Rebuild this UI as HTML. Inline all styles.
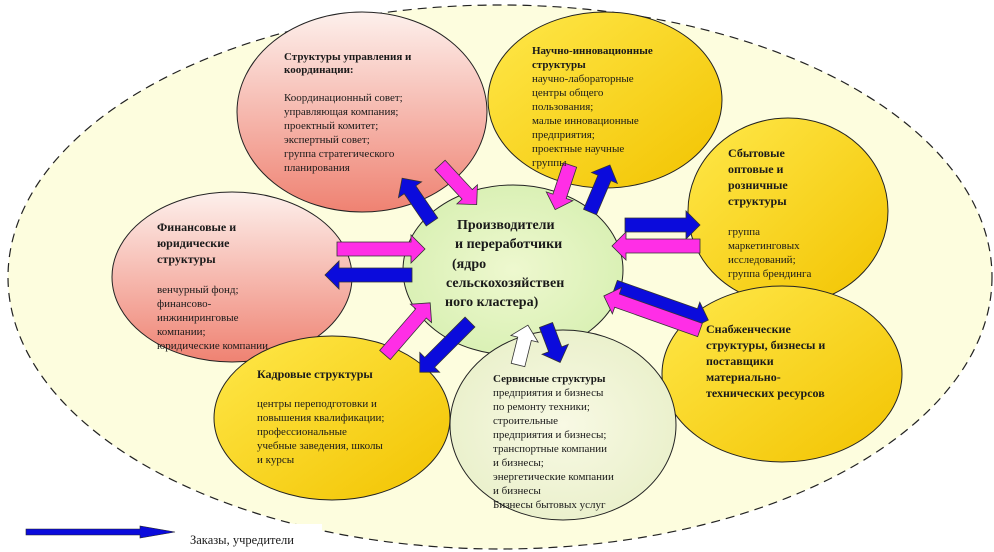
<!DOCTYPE html>
<html><head><meta charset="utf-8"><style>
html,body{margin:0;padding:0;background:#fff;}
svg{display:block;}
text{font-family:"Liberation Serif",serif;fill:#1a1a1a;}
.b{font-weight:bold;}
</style></head><body>
<svg width="994" height="552" viewBox="0 0 994 552" xmlns="http://www.w3.org/2000/svg">
<defs>
<linearGradient id="pk" x1="0" y1="0" x2="0" y2="1">
<stop offset="0" stop-color="#fdf0ec"/><stop offset="1" stop-color="#ef8272"/></linearGradient>
<linearGradient id="yl" x1="0" y1="0" x2="1" y2="1">
<stop offset="0" stop-color="#ffe84a"/><stop offset="1" stop-color="#f2c300"/></linearGradient>
<radialGradient id="gr" cx="0.5" cy="0.5" r="0.6">
<stop offset="0" stop-color="#eef8cf"/><stop offset="1" stop-color="#d6efb0"/></radialGradient>
<radialGradient id="gr2" cx="0.5" cy="0.5" r="0.6">
<stop offset="0" stop-color="#f8f9e4"/><stop offset="1" stop-color="#e8efc8"/></radialGradient>
<polygon id="a" points="0,-7 -14,-7 -14,-14 0,0 -14,14 -14,7 0,7"/>
</defs>
<ellipse cx="500" cy="277" rx="492" ry="272" fill="#fdfdde" stroke="#222" stroke-width="1.2" stroke-dasharray="9,6"/>

<ellipse cx="362" cy="112" rx="125" ry="100" fill="url(#pk)" stroke="#222"/>
<ellipse cx="605" cy="100" rx="117" ry="88" fill="url(#yl)" stroke="#222"/>
<ellipse cx="232" cy="277" rx="120" ry="85" fill="url(#pk)" stroke="#222"/>
<ellipse cx="788" cy="211" rx="100" ry="93" fill="url(#yl)" stroke="#222"/>
<ellipse cx="513" cy="270" rx="110" ry="85" fill="url(#gr)" stroke="#222"/>
<ellipse cx="782" cy="374" rx="120" ry="88" fill="url(#yl)" stroke="#222"/>
<ellipse cx="332" cy="418" rx="118" ry="82" fill="url(#yl)" stroke="#222"/>
<ellipse cx="563" cy="425" rx="113" ry="95" fill="url(#gr2)" stroke="#222"/>

<g stroke="#333" stroke-width="0.8">
<path d="M0,-7 H-14 V-14 L0,0 L-14,14 V7 H0Z" transform="translate(432,222) rotate(-124.3) translate(53,0)" fill="#0a0ae0" display="none"/>
</g>
<g stroke="#333" stroke-width="0.8">
<g transform="translate(432,222) rotate(-124.3)"><polygon points="0,-7 39,-7 39,-14 53,0 39,14 39,7 0,7" fill="#0b0bdc"/></g>
<g transform="translate(440,165) rotate(47.2)"><polygon points="0,-7 40,-7 40,-14 54,0 40,14 40,7 0,7" fill="#ff2ee6"/></g>
<g transform="translate(570,165) rotate(108.4)"><polygon points="0,-7 33,-7 33,-14 47,0 33,14 33,7 0,7" fill="#ff2ee6"/></g>
<g transform="translate(590,212) rotate(-67)"><polygon points="0,-7 37,-7 37,-14 51,0 37,14 37,7 0,7" fill="#0b0bdc"/></g>
<g transform="translate(625,225) rotate(0)"><polygon points="0,-7 61,-7 61,-14 75,0 61,14 61,7 0,7" fill="#0b0bdc"/></g>
<g transform="translate(700,246) rotate(180)"><polygon points="0,-7 74,-7 74,-14 88,0 74,14 74,7 0,7" fill="#ff2ee6"/></g>
<g transform="translate(615,287) rotate(19.5)"><polygon points="0,-7 85,-7 85,-14 99,0 85,14 85,7 0,7" fill="#0b0bdc"/></g>
<g transform="translate(700,330) rotate(199.5)"><polygon points="0,-7 88,-7 88,-14 102,0 88,14 88,7 0,7" fill="#ff2ee6"/></g>
<g transform="translate(337,249) rotate(0)"><polygon points="0,-7 74,-7 74,-14 88,0 74,14 74,7 0,7" fill="#ff2ee6"/></g>
<g transform="translate(412,275) rotate(180)"><polygon points="0,-7 73,-7 73,-14 87,0 73,14 73,7 0,7" fill="#0b0bdc"/></g>
<g transform="translate(385,355) rotate(-49.1)"><polygon points="0,-7 55,-7 55,-14 69,0 55,14 55,7 0,7" fill="#ff2ee6"/></g>
<g transform="translate(470,322) rotate(135)"><polygon points="0,-7 57,-7 57,-14 71,0 57,14 57,7 0,7" fill="#0b0bdc"/></g>
<g transform="translate(518,365) rotate(-76)"><polygon points="0,-7 27,-7 27,-14 41,0 27,14 27,7 0,7" fill="#ffffff"/></g>
<g transform="translate(546,325) rotate(69.3)"><polygon points="0,-7 26,-7 26,-14 40,0 26,14 26,7 0,7" fill="#0b0bdc"/></g>
</g>

<rect x="182" y="524" width="140" height="28" fill="#fff"/>
<polygon points="26,529 140,529 140,526 175,532 140,538 140,535 26,535" fill="#0b0bdc" stroke="#222" stroke-width="0.6"/>
<text x="190" y="544" font-size="12.5">Заказы, учредители</text>

<g font-size="11">
<text x="284" y="60" class="b">Структуры управления и</text>
<text x="284" y="73" class="b">координации:</text>
<text x="284" y="101">Координационный совет;</text>
<text x="284" y="115">управляющая компания;</text>
<text x="284" y="129">проектный комитет;</text>
<text x="284" y="143">экспертный совет;</text>
<text x="284" y="157">группа стратегического</text>
<text x="284" y="171">планирования</text>

<text x="532" y="54" class="b">Научно-инновационные</text>
<text x="532" y="68" class="b">структуры</text>
<text x="532" y="82">научно-лабораторные</text>
<text x="532" y="96">центры общего</text>
<text x="532" y="110">пользования;</text>
<text x="532" y="124">малые инновационные</text>
<text x="532" y="138">предприятия;</text>
<text x="532" y="152">проектные  научные</text>
<text x="532" y="166">группы</text>
</g>

<g font-size="12" class="b">
<text x="728" y="157" class="b">Сбытовые</text>
<text x="728" y="173" class="b">оптовые и</text>
<text x="728" y="189" class="b">розничные</text>
<text x="728" y="205" class="b">структуры</text>
</g>
<g font-size="11">
<text x="728" y="235">группа</text>
<text x="728" y="249">маркетинговых</text>
<text x="728" y="263">исследований;</text>
<text x="728" y="277">группа брендинга</text>
</g>

<g font-size="12">
<text x="157" y="231" class="b">Финансовые и</text>
<text x="157" y="247" class="b">юридические</text>
<text x="157" y="263" class="b">структуры</text>
</g>
<g font-size="11">
<text x="157" y="293">венчурный фонд;</text>
<text x="157" y="307">финансово-</text>
<text x="157" y="321">инжиниринговые</text>
<text x="157" y="335">компании;</text>
<text x="157" y="349">юридические компании</text>
</g>

<g font-size="14" class="b" text-anchor="start">
<text x="457" y="229" class="b">Производители</text>
<text x="455" y="248" class="b">и переработчики</text>
<text x="452" y="268" class="b">(ядро</text>
<text x="446" y="287" class="b">сельскохозяйствен</text>
<text x="445" y="306" class="b">ного кластера)</text>
</g>

<text x="257" y="378" font-size="12" class="b">Кадровые структуры</text>
<g font-size="11">
<text x="257" y="407">центры переподготовки и</text>
<text x="257" y="421">повышения квалификации;</text>
<text x="257" y="435">профессиональные</text>
<text x="257" y="449">учебные заведения, школы</text>
<text x="257" y="463">и курсы</text>
</g>

<g font-size="11">
<text x="493" y="382" class="b">Сервисные структуры</text>
<text x="493" y="396">предприятия и  бизнесы</text>
<text x="493" y="410">по ремонту техники;</text>
<text x="493" y="424">строительные</text>
<text x="493" y="438">предприятия  и бизнесы;</text>
<text x="493" y="452">транспортные компании</text>
<text x="493" y="466"> и бизнесы;</text>
<text x="493" y="480">энергетические компании</text>
<text x="493" y="494"> и бизнесы</text>
<text x="493" y="508">Бизнесы бытовых услуг</text>
</g>

<g font-size="12">
<text x="706" y="333" class="b">Снабженческие</text>
<text x="706" y="349" class="b">структуры, бизнесы и</text>
<text x="706" y="365" class="b">поставщики</text>
<text x="706" y="381" class="b">материально-</text>
<text x="706" y="397" class="b">технических ресурсов</text>
</g>
</svg>
</body></html>
